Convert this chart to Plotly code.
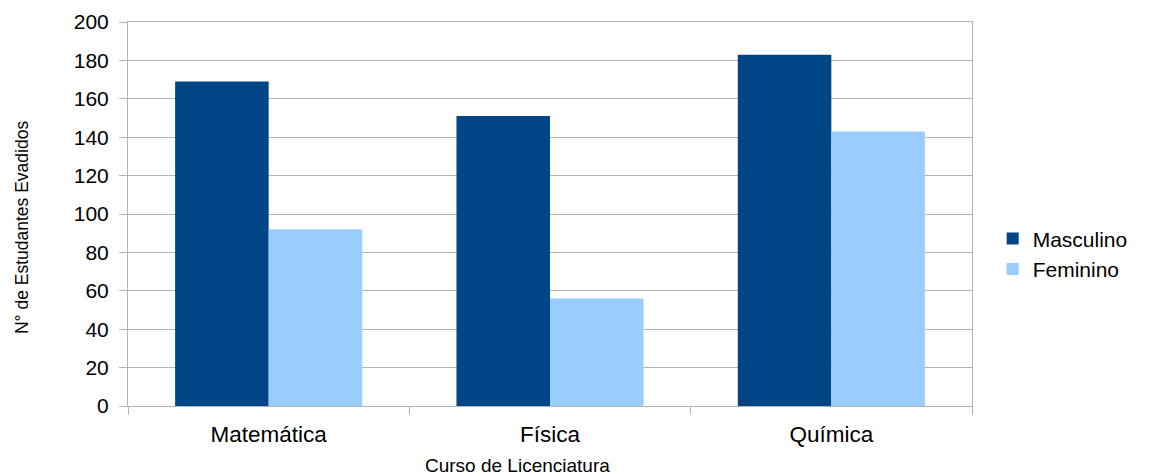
import plotly.graph_objects as go

categories = ["Matemática", "Física", "Química"]
masculino = [169, 151, 183]
feminino = [92, 56, 143]
y_ticks = [0, 20, 40, 60, 80, 100, 120, 140, 160, 180, 200]

fig = go.Figure()
fig.add_trace(go.Bar(x=categories, y=masculino, name="Masculino",
                     marker=dict(color="#004586", line=dict(width=0))))
fig.add_trace(go.Bar(x=categories, y=feminino, name="Feminino",
                     marker=dict(color="#99ccff", line=dict(width=0))))

font = "Liberation Sans, Arial, sans-serif"
fig.update_layout(
    width=1141, height=468,
    margin=dict(l=120, r=177, t=14, b=70, autoexpand=False),
    paper_bgcolor="white", plot_bgcolor="white",
    barmode="group", bargap=0.335, bargroupgap=0,
    font=dict(family=font, color="#000000"),
    legend=dict(x=1.0245, y=0.396, xanchor="left", yanchor="middle",
                font=dict(size=21, family=font), itemsizing="constant",
                tracegroupgap=0),
    showlegend=True,
    annotations=[
        dict(text="Curso de Licenciatura", xref="paper", yref="paper",
             x=0.462, y=-0.156, xanchor="center", yanchor="middle",
             showarrow=False, font=dict(size=19, family=font)),
        dict(text="N° de Estudantes Evadidos", xref="paper", yref="paper",
             x=-0.1256, y=0.466, xanchor="center", yanchor="middle",
             textangle=-90, showarrow=False, font=dict(size=17.5, family=font)),
    ],
)
fig.update_xaxes(
    type="category", tickson="boundaries", ticks="outside", ticklen=8,
    tickcolor="#b3b3b3", showgrid=False, showline=True, linecolor="#b3b3b3",
    mirror=True, tickfont=dict(size=22.5, family=font), automargin=False,
    ticklabelstandoff=8,
)
fig.update_yaxes(
    range=[0, 200], tickvals=y_ticks, ticks="outside", ticklen=8,
    tickcolor="#b3b3b3", showgrid=True, gridcolor="#b3b3b3", gridwidth=1,
    showline=True, linecolor="#b3b3b3", mirror=True, zeroline=False,
    tickfont=dict(size=21, family=font), automargin=False,
    ticklabelstandoff=6,
)
fig.write_html("out.html")
